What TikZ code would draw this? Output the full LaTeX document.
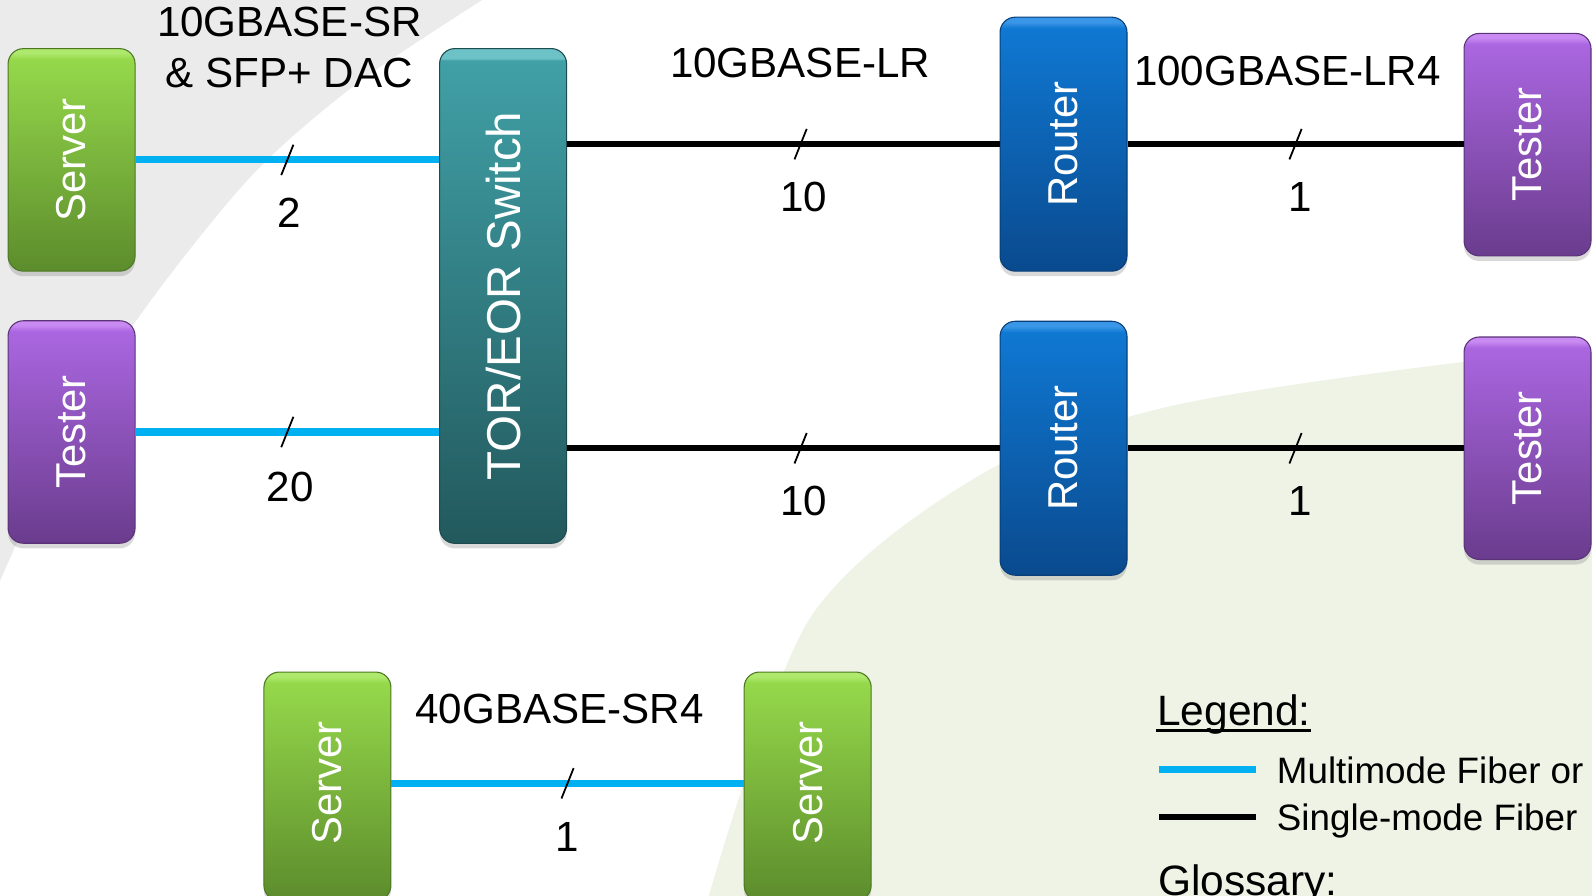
\documentclass[tikz,border=0pt]{standalone}
\usepackage{fontspec}
\setmainfont{Liberation Sans}
\usetikzlibrary{shadows, calc}
\definecolor{srvhi}{HTML}{AEE86C}
\definecolor{srvtop}{HTML}{95D84B}
\definecolor{srvbot}{HTML}{5C8C2C}
\definecolor{tsthi}{HTML}{C98AF2}
\definecolor{tsttop}{HTML}{AA66E0}
\definecolor{tstbot}{HTML}{6A3C8D}
\definecolor{swhi}{HTML}{6CC2C6}
\definecolor{swtop}{HTML}{40A0A6}
\definecolor{swbot}{HTML}{22595D}
\definecolor{rthi}{HTML}{3A96E6}
\definecolor{rttop}{HTML}{0F78D2}
\definecolor{rtbot}{HTML}{0A4A8E}
\definecolor{mmfiber}{HTML}{00B0F0}
\definecolor{bggray}{HTML}{EBEBEB}
\definecolor{bggreen}{HTML}{EEF3E6}

\newcommand{\boxshading}[5]{%
	\pgfdeclareverticalshading{#1}{100bp}{color(0bp)=(#4); color(25bp)=(#4);
		color(#5bp)=(#3); color(74bp)=(#2); color(75bp)=(#2); color(100bp)=(#2)}}
\boxshading{srvshade}{srvhi}{srvtop}{srvbot}{72.6}
\boxshading{tstshade}{tsthi}{tsttop}{tstbot}{72.6}
\boxshading{rtshade}{rthi}{rttop}{rtbot}{72.8}
\boxshading{swshade}{swhi}{swtop}{swbot}{73.8}

\begin{document}
\begin{tikzpicture}[x=0.01cm,y=-0.01cm,
		box/.style={
			rounded corners=0.15cm,
			minimum width=1.25cm,
			minimum height=2.19cm,
			inner sep=0pt,
			line width=0.3pt,
			shade,
			drop shadow={opacity=0.3,shadow xshift=0cm,shadow yshift=-0.05cm},
		},
		server/.style={box, shading=srvshade, draw=srvbot!85!black},
		tester/.style={box, shading=tstshade, draw=tstbot!85!black},
		router/.style={box, shading=rtshade, draw=rtbot!85!black, minimum height=2.5cm},
		switch/.style={box, shading=swshade, draw=swbot!85!black, minimum height=4.87cm},
		boxtext/.style={text=white, rotate=90, font=\fontsize{11.7}{14}\selectfont},
		mmf/.style={draw=mmfiber, line width=2pt},
		smf/.style={draw=black, line width=1.7pt},
		cut/.style={draw=black, line width=0.5pt},
		txt/.style={font=\fontsize{11.8}{14.2}\selectfont, align=center},
		legtxt/.style={font=\fontsize{10.3}{12}\selectfont, anchor=base west, inner sep=0pt},
	]
	\useasboundingbox (0,0) rectangle (1568,882.5);
	% background
	\fill[bggray] plot[smooth] coordinates {(475,0) (352,82) (246,175) (132,319) (57,449) (0,572)} -- (0,0) -- cycle;
	\fill[bggreen] plot[smooth] coordinates {(1572,349) (1445,356) (1153,400) (965,468) (797,610) (697,886)} -- (1572,886) -- cycle;

	% boxes
	\node[server] (srvA) at (70.5,157.5) {};
	\node[boxtext] (srvAt) at (srvA) {Server};
	\node[tester] (tstA) at (70.5,425.5) {};
	\node[boxtext] (tstAt) at (tstA) {Tester};
	\node[switch] (sw) at (495.5,291.5) {};
	\node[boxtext, font=\fontsize{13.3}{16}\selectfont] (swt) at (sw) {TOR/EOR Switch};
	\node[router] (rtA) at (1047.5,142) {};
	\node[boxtext] (rtAt) at (rtA) {Router};
	\node[tester] (tstB) at (1504.5,142.5) {};
	\node[boxtext] (tstBt) at (tstB) {Tester};
	\node[router] (rtB) at (1047.5,441.5) {};
	\node[boxtext] (rtBt) at (rtB) {Router};
	\node[tester] (tstC) at (1504.5,441.5) {};
	\node[boxtext] (tstCt) at (tstC) {Tester};
	\node[server, minimum height=2.25cm] (srvB) at (322.5,774.5) {};
	\node[boxtext] (srvBt) at (322.5,771.5) {Server};
	\node[server, minimum height=2.25cm] (srvC) at (795.5,774.5) {};
	\node[boxtext] (srvCt) at (795.5,771.5) {Server};

	% links
	\draw[mmf] (srvA.east) -- coordinate[midway] (c1) (srvA.east -| sw.west);
	\draw[mmf] (tstA.east) -- coordinate[midway] (c2) (tstA.east -| sw.west);
	\draw[smf] (rtA.west -| sw.east) -- coordinate[pos=0.54] (c3) (rtA.west);
	\draw[smf] (rtA.east) -- coordinate[midway] (c4) (rtA.east -| tstB.west);
	\draw[smf] (rtB.west -| sw.east) -- coordinate[pos=0.54] (c5) (rtB.west);
	\draw[smf] (rtB.east) -- coordinate[midway] (c6) (rtB.east -| tstC.west);
	\draw[mmf] (srvB.east |- srvBt) -- coordinate[midway] (c7) (srvC.west |- srvCt);

	\foreach \c in {c1,c2,c3,c4,c5,c6,c7}
		\draw[cut] (\c) ++(6,-15) --++(-12,30);

	% counts
	\node[txt] (n1) at ($(c1)+(2,52)$) {2};
	\node[txt] (n2) at ($(c2)+(3,54)$) {20};
	\node[txt] (n3) at ($(c3)+(3,52)$) {10};
	\node[txt] (n4) at ($(c4)+(5,52)$) {1};
	\node[txt] (n5) at ($(c5)+(3,52)$) {10};
	\node[txt] (n6) at ($(c6)+(5,52)$) {1};
	\node[txt] (n7) at ($(c7)+(0,53)$) {1};

	% link types
	\node[txt] (l1) at (285,47) {10GBASE-SR\\\& SFP+ DAC};
	\node[txt] (l2) at (788,62) {10GBASE-LR};
	\node[txt] (l3) at (1268,70) {100GBASE-LR4};
	\node[txt] (l4) at (551,698) {40GBASE-SR4};

	% legend
	\node[legtxt, font=\fontsize{11.9}{14}\selectfont] (leg) at (1139,715) {Legend:};
	\draw[line width=1.1pt] ($(leg.base west)+(0,4.5)$) -- ($(leg.base east)+(0,4.5)$);
	\coordinate (mA) at (1142,758);
	\coordinate (mB) at (1237,758);
	\draw[mmf] (mA) -- (mB);
	\node[legtxt] (legm) at (1257,771.5) {Multimode Fiber or};
	\coordinate (sA) at (1142,805);
	\coordinate (sB) at (1237,805);
	\draw[smf] (sA) -- (sB);
	\node[legtxt] (legs) at (1257,818) {Single-mode Fiber};
	\node[legtxt, font=\fontsize{11.9}{14}\selectfont] (glo) at (1140,882) {Glossary:};
\end{tikzpicture}
\end{document}
